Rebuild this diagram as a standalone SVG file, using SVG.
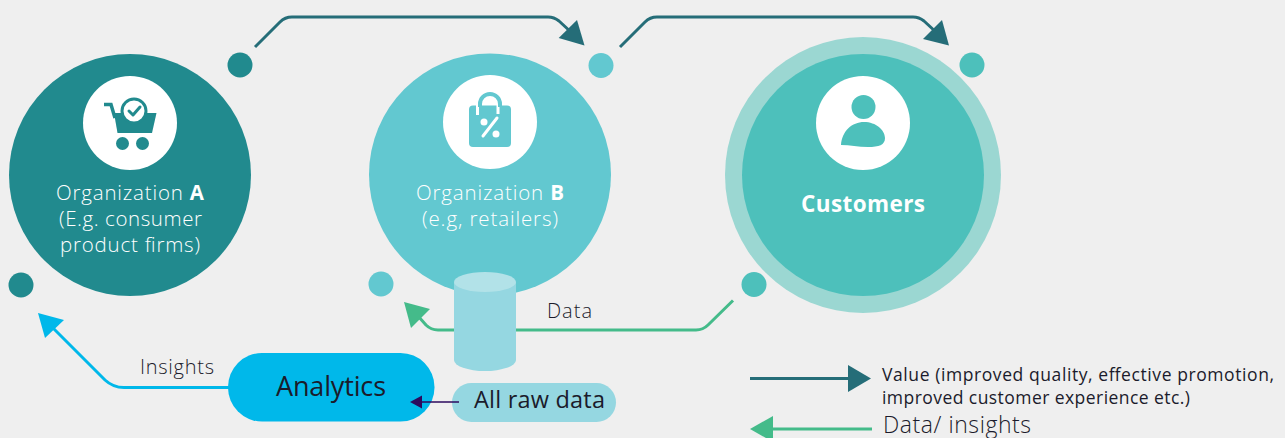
<svg xmlns="http://www.w3.org/2000/svg" width="1285" height="438" viewBox="0 0 1285 438">
<style>
text{font-family:"Open Sans","Noto Sans","Liberation Sans",sans-serif;font-weight:400}
.w{fill:#fff;font-size:20.500px;font-weight:300}
.d{fill:#1b1b2b}
.b{font-weight:700}
.l{fill:none;stroke-width:3;stroke-linejoin:round}
</style>
<rect width="1285" height="438" fill="#efefef"/>
<g id="org-a">
<circle cx="130" cy="175" r="121" fill="#218a8e"/>
<circle cx="240" cy="65" r="12.500" fill="#218a8e"/>
<circle cx="21" cy="285" r="12.500" fill="#218a8e"/>
<circle cx="130" cy="123" r="47" fill="#fff"/>
<path fill="none" stroke="#218a8e" stroke-width="3.500" d="M104 104.500H111L115 118"/>
<polygon fill="#218a8e" points="114,113 156.500,113 152,133 117.500,133"/>
<circle cx="122.500" cy="143.500" r="6.500" fill="#218a8e"/>
<circle cx="142.500" cy="143.500" r="6.500" fill="#218a8e"/>
<circle cx="134" cy="111" r="12" fill="#fff" stroke="#218a8e" stroke-width="3"/>
<path fill="none" stroke="#218a8e" stroke-width="3" stroke-linecap="round" stroke-linejoin="round" d="M129 111L133 115L140 107"/>
<text class="w" x="56" y="200" textLength="148">Organization <tspan class="b">A</tspan></text>
<text class="w" x="59" y="226" textLength="143">(E.g. consumer</text>
<text class="w" x="60" y="252" textLength="140">product firms)</text>
</g>
<g id="org-b">
<circle cx="490" cy="174.500" r="121" fill="#62c8d0"/>
<circle cx="601" cy="65.500" r="12.500" fill="#62c8d0"/>
<circle cx="381" cy="284" r="12.500" fill="#62c8d0"/>
<circle cx="490" cy="122" r="47" fill="#fff"/>
<rect x="469" y="105.500" width="42" height="41.500" rx="4" fill="#62c8d0"/>
<path fill="none" stroke="#fff" stroke-width="3" d="M477.500 105V115M498 104V114"/>
<path fill="none" stroke="#fff" stroke-width="8" d="M474.500 101H503"/>
<path fill="none" stroke="#62c8d0" stroke-width="4" d="M480 107V104A10 10 0 0 1 500 104V107"/>
<circle cx="484" cy="122" r="3.500" fill="#fff"/>
<circle cx="496" cy="134" r="3.500" fill="#fff"/>
<path stroke="#fff" stroke-width="3" stroke-linecap="round" d="M483 136L497 118"/>
<text class="w" x="416" y="200" textLength="148">Organization <tspan class="b">B</tspan></text>
<text class="w" x="422" y="226" textLength="136">(e.g, retailers)</text>
</g>
<g id="customers">
<circle cx="863" cy="175" r="138" fill="#9bd7d2"/>
<circle cx="863" cy="175" r="121" fill="#4dc0bb"/>
<circle cx="972" cy="65" r="12.500" fill="#4dc0bb"/>
<circle cx="754" cy="284.500" r="12.500" fill="#4dc0bb"/>
<circle cx="863" cy="123" r="47" fill="#fff"/>
<circle cx="863.500" cy="107" r="12" fill="#4dc0bb"/>
<path fill="#4dc0bb" d="M841 145C842 131 852 122 864 122C876 122 885 130 885 138C885 145 879 147 868 147C858 147 850 145 841 145Z"/>
<text x="801" y="212" textLength="124" style="font-weight:700;font-size:22.500px;fill:#fff">Customers</text>
</g>
<g id="data-store">
<path fill="#95d7e1" d="M454 282H516V360A31 11 0 0 1 454 360Z"/>
<ellipse cx="485" cy="282" rx="31" ry="10" fill="#b2e2e8"/>
</g>
<g id="all-raw-data">
<rect x="452" y="383" width="164" height="39" rx="19.500" fill="#95d7e1"/>
<text class="d" x="474" y="408" textLength="131" style="font-size:23.500px">All raw data</text>
</g>
<g id="analytics">
<rect x="228" y="353" width="206.500" height="68.500" rx="34" fill="#00b8ea"/>
<text class="d" x="276" y="396" textLength="110" style="font-size:27px">Analytics</text>
</g>
<g id="connectors">
<path class="l" stroke="#256d78" d="M255 47L280 22Q285 17 292 17H548Q554 17 559 21L572 33"/>
<polygon fill="#256d78" points="584.500,45.500 558.700,38 577,20"/>
<path class="l" stroke="#256d78" d="M620 47L645 22Q650 17 657 17H913Q919 17 924 21L937 33"/>
<polygon fill="#256d78" points="949,45.500 923,39 942,20"/>
<path class="l" stroke="#44bb8a" d="M733 300.500L708 325Q703 330 696 330H516"/>
<path class="l" stroke="#44bb8a" d="M454 330H438Q431 330 426 325L418 316"/>
<polygon fill="#44bb8a" points="404,302 430,309 411,328"/>
<path class="l" stroke="#00b8ea" d="M229 387.500H124Q113 387.500 105 380L53 328"/>
<polygon fill="#00b8ea" points="38,313 64,320 45,338"/>
<path fill="none" stroke="#2c0a5e" stroke-width="1.500" d="M459 402H420"/>
<polygon fill="#2c0a5e" points="410,402 422,395.500 422,408.500"/>
</g>
<g id="labels">
<text class="d" x="547" y="318" textLength="45" style="font-size:20px;font-weight:300">Data</text>
<text class="d" x="140" y="374" textLength="74" style="font-size:20px;font-weight:300">Insights</text>
</g>
<g id="legend">
<path fill="none" stroke="#256d78" stroke-width="3" d="M750 378.500H850"/>
<polygon fill="#256d78" points="848,365 871,378.500 848,392"/>
<path fill="none" stroke="#44bb8a" stroke-width="3" d="M772 429H872"/>
<polygon fill="#44bb8a" points="750,429 773,416 773,442"/>
<text class="d" x="882" y="381" textLength="392" style="font-size:17.500px">Value (improved quality, effective promotion,</text>
<text class="d" x="882" y="404" textLength="308" style="font-size:17.500px">improved customer experience etc.)</text>
<text class="d" x="883" y="432.500" textLength="148" style="font-size:23px;font-weight:300">Data/ insights</text>
</g>
</svg>
